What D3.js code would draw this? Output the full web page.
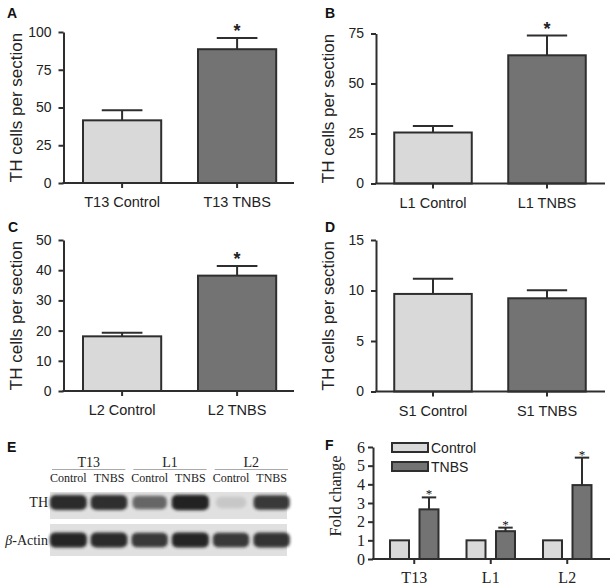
<!DOCTYPE html>
<html><head><meta charset="utf-8">
<script src="https://cdn.jsdelivr.net/npm/d3@7"></script>
<style>body{margin:0;background:#fff}</style>
</head><body>
<svg id="chart" width="612" height="588"></svg>
<script>
// ---------- DATA ----------
const catsA = ["T13 Control", "T13 TNBS"];
const meansA = [41.5, 88.6];
const semA = [6.6, 7.4];
const sigA = [false, true];
const ticksA = [0, 25, 50, 75, 100];

const catsB = ["L1 Control", "L1 TNBS"];
const meansB = [25.5, 64.1];
const semB = [3.2, 9.9];
const sigB = [false, true];
const ticksB = [0, 25, 50, 75];

const catsC = ["L2 Control", "L2 TNBS"];
const meansC = [18.1, 38.2];
const semC = [1.2, 3.2];
const sigC = [false, true];
const ticksC = [0, 10, 20, 30, 40, 50];

const catsD = ["S1 Control", "S1 TNBS"];
const meansD = [9.66, 9.23];
const semD = [1.5, 0.8];
const sigD = [false, false];
const ticksD = [0, 5, 10, 15];

const blotLevels = ["T13", "L1", "L2"];
const blotLanes = ["Control", "TNBS", "Control", "TNBS", "Control", "TNBS"];
const thIntensity = [0.92, 0.9, 0.62, 0.97, 0.12, 0.85];
const actinIntensity = [0.95, 0.92, 0.85, 0.95, 0.85, 0.88];

const groupsF = ["T13", "L1", "L2"];
const seriesF = ["Control", "TNBS"];
const controlF = [1, 1, 1];
const tnbsF = [2.66, 1.49, 3.96];
const semTnbsF = [0.64, 0.19, 1.47];
const sigF = [true, true, true];
const ticksF = [0, 1, 2, 3, 4, 5, 6];

// ---------- DRAW ----------
const svg = d3.select("#chart");
const SANS = "'Liberation Sans', Arial, sans-serif";
const SERIF = "'Liberation Serif', 'Times New Roman', serif";
const INK = "#2e2e2e";
const LIGHT = "#d9d9d9";
const DARK = "#737373";

function panelLetter(txt, x, y) {
  svg.append("text").attr("x", x).attr("y", y).text(txt)
    .attr("font-family", SANS).attr("font-weight", "bold").attr("font-size", 14).attr("fill", "#111");
}

function barPanel(cfg) {
  const g = svg.append("g");
  const y = d3.scaleLinear().domain([0, cfg.yMax]).range([cfg.y0, cfg.yTop]);
  const x = d3.scaleBand().domain(cfg.cats).range([cfg.bandL, cfg.bandR])
    .paddingInner(0.32).paddingOuter(0.16);
  const bw = x.bandwidth();
  const fills = [LIGHT, DARK];

  // error bars (upper only)
  cfg.cats.forEach((c, i) => {
    const cx = x(c) + bw / 2;
    const top = y(cfg.means[i] + cfg.sem[i]);
    g.append("line").attr("x1", cx).attr("x2", cx).attr("y1", y(cfg.means[i])).attr("y2", top)
      .attr("stroke", INK).attr("stroke-width", 2);
    g.append("line").attr("x1", cx - bw * 0.26).attr("x2", cx + bw * 0.26).attr("y1", top).attr("y2", top)
      .attr("stroke", INK).attr("stroke-width", 2);
    if (cfg.sig[i]) {
      g.append("text").attr("x", cx).attr("y", top - 1).attr("text-anchor", "middle")
        .attr("font-family", SANS).attr("font-weight", "bold").attr("font-size", 18).attr("fill", "#222").text("*");
    }
  });

  g.selectAll("rect.bar").data(cfg.cats).join("rect").attr("class", "bar")
    .attr("x", d => x(d)).attr("width", bw)
    .attr("y", (d, i) => y(cfg.means[i]))
    .attr("height", (d, i) => y(0) - y(cfg.means[i]))
    .attr("fill", (d, i) => fills[i]).attr("stroke", INK).attr("stroke-width", 2);

  // y axis
  const ya = g.append("g").attr("transform", `translate(${cfg.axisX},0)`)
    .call(d3.axisLeft(y).tickValues(cfg.ticks).tickSize(5).tickPadding(7).tickSizeOuter(0));
  ya.selectAll("path,line").attr("stroke", INK).attr("stroke-width", 2);
  ya.selectAll("text").attr("font-family", SANS).attr("font-size", 14).attr("fill", "#222");

  // x axis
  const xa = g.append("g").attr("transform", `translate(0,${cfg.y0})`)
    .call(d3.axisBottom(x).tickSize(5).tickPadding(9).tickSizeOuter(0));
  xa.select(".domain").remove();
  xa.append("line").attr("x1", cfg.axisX - 1).attr("x2", cfg.plotR).attr("y1", 0).attr("y2", 0)
    .attr("stroke", INK).attr("stroke-width", 2);
  xa.selectAll(".tick line").attr("stroke", INK).attr("stroke-width", 2);
  xa.selectAll("text").attr("font-family", SANS).attr("font-size", 14.5).attr("fill", "#222");

  // y title
  g.append("text")
    .attr("transform", `translate(${cfg.axisX - 42},${(cfg.y0 + cfg.yTop) / 2}) rotate(-90)`)
    .attr("text-anchor", "middle").attr("font-family", SANS).attr("font-size", 17).attr("fill", "#222")
    .text("TH cells per section");
}

barPanel({cats: catsA, means: meansA, sem: semA, sig: sigA, ticks: ticksA, yMax: 100,
  axisX: 63.5, plotR: 294, y0: 183, yTop: 32, bandL: 64.6, bandR: 294.6});
barPanel({cats: catsB, means: meansB, sem: semB, sig: sigB, ticks: ticksB, yMax: 75,
  axisX: 376, plotR: 605, y0: 183.5, yTop: 33.5, bandL: 376, bandR: 604});
barPanel({cats: catsC, means: meansC, sem: semC, sig: sigC, ticks: ticksC, yMax: 50,
  axisX: 63.5, plotR: 294, y0: 391, yTop: 240, bandL: 64.6, bandR: 294.6});
barPanel({cats: catsD, means: meansD, sem: semD, sig: sigD, ticks: ticksD, yMax: 15,
  axisX: 376, plotR: 605, y0: 391.5, yTop: 240, bandL: 376, bandR: 604});

panelLetter("A", 7, 18);
panelLetter("B", 325, 18);
panelLetter("C", 8, 232);
panelLetter("D", 325, 232);
panelLetter("E", 7, 452);
panelLetter("F", 325, 450);

// ---------- Panel E: western blot ----------
(function () {
  const g = svg.append("g");
  const defs = svg.append("defs");
  defs.append("filter").attr("id", "blur").attr("x", "-30%").attr("y", "-60%").attr("width", "160%").attr("height", "220%")
    .append("feGaussianBlur").attr("stdDeviation", 1.6);
  const lane = d3.scaleBand().domain(d3.range(blotLanes.length)).range([48, 292]);
  const step = lane.step();
  const rows = [
    {name: "TH", y0: 492, y1: 519, data: thIntensity, h: 11},
    {name: "Actin", y0: 524, y1: 556, data: actinIntensity, h: 11}
  ];
  rows.forEach(r => {
    g.append("rect").attr("x", 50).attr("y", r.y0).attr("width", 237).attr("height", r.y1 - r.y0).attr("fill", "#e0e0e0");
    const cy = (r.y0 + r.y1) / 2 + (r.name === "TH" ? -3 : 0);
    g.selectAll(null).data(r.data).join("rect")
      .attr("x", (d, i) => lane(i) + step / 2 - step * (0.36 + 0.1 * d))
      .attr("width", d => step * (0.72 + 0.2 * d))
      .attr("y", d => cy - r.h * (0.5 + 0.2 * d))
      .attr("height", d => r.h * (1 + 0.4 * d))
      .attr("rx", 6).attr("ry", 5)
      .attr("fill", "#1a1a1a").attr("opacity", d => d)
      .attr("filter", "url(#blur)");
  });
  // headers
  blotLevels.forEach((lv, k) => {
    const xL = lane(2 * k) + 4, xR = lane(2 * k + 1) + step - 4;
    g.append("line").attr("x1", xL).attr("x2", xR).attr("y1", 469.5).attr("y2", 469.5).attr("stroke", "#aaa").attr("stroke-width", 1);
    g.append("text").attr("x", (xL + xR) / 2).attr("y", 467).attr("text-anchor", "middle")
      .attr("font-family", SERIF).attr("font-size", 14).attr("fill", "#222").text(lv);
  });
  blotLanes.forEach((ln, i) => {
    g.append("text").attr("x", lane(i) + step / 2).attr("y", 482).attr("text-anchor", "middle")
      .attr("font-family", SERIF).attr("font-size", 12).attr("fill", "#222").text(ln);
  });
  g.append("text").attr("x", 48).attr("y", 507).attr("text-anchor", "end")
    .attr("font-family", SERIF).attr("font-size", 14).attr("fill", "#222").text("TH");
  const act = g.append("text").attr("x", 48).attr("y", 545).attr("text-anchor", "end")
    .attr("font-family", SERIF).attr("font-size", 14).attr("fill", "#222");
  act.append("tspan").attr("font-style", "italic").text("β");
  act.append("tspan").text("-Actin");
})();

// ---------- Panel F ----------
(function () {
  const g = svg.append("g");
  const y = d3.scaleLinear().domain([0, 6]).range([559, 447]);
  const x0 = d3.scaleBand().domain(groupsF).range([376, 605.5]);
  const x1 = d3.scaleBand().domain(seriesF).range([0, x0.bandwidth()]).paddingInner(0.356).paddingOuter(0.475);
  const bw = x1.bandwidth();
  const vals = {Control: controlF, TNBS: tnbsF};
  const fills = {Control: LIGHT, TNBS: DARK};

  groupsF.forEach((grp, i) => {
    const cx = x0(grp) + x1("TNBS") + bw / 2;
    const top = y(tnbsF[i] + semTnbsF[i]);
    g.append("line").attr("x1", cx).attr("x2", cx).attr("y1", y(tnbsF[i])).attr("y2", top).attr("stroke", INK).attr("stroke-width", 2);
    g.append("line").attr("x1", cx - bw * 0.38).attr("x2", cx + bw * 0.38).attr("y1", top).attr("y2", top).attr("stroke", INK).attr("stroke-width", 2);
    if (sigF[i]) {
      g.append("text").attr("x", cx).attr("y", top + 1).attr("text-anchor", "middle")
        .attr("font-family", SERIF).attr("font-size", 13).attr("fill", "#111").text("*");
    }
  });
  seriesF.forEach(s => {
    g.selectAll(null).data(groupsF).join("rect")
      .attr("x", d => x0(d) + x1(s)).attr("width", bw)
      .attr("y", (d, i) => y(vals[s][i])).attr("height", (d, i) => y(0) - y(vals[s][i]))
      .attr("fill", fills[s]).attr("stroke", INK).attr("stroke-width", 2);
  });

  const ya = g.append("g").attr("transform", "translate(373,0)")
    .call(d3.axisLeft(y).tickValues(ticksF).tickFormat(d3.format("d")).tickSize(5).tickPadding(3).tickSizeOuter(0));
  ya.selectAll("path,line").attr("stroke", INK).attr("stroke-width", 2);
  ya.selectAll("text").attr("font-family", SERIF).attr("font-size", 16).attr("fill", "#222");

  const xa = g.append("g").attr("transform", "translate(0,559)")
    .call(d3.axisBottom(x0).tickSize(5).tickPadding(8).tickSizeOuter(0));
  xa.select(".domain").remove();
  xa.append("line").attr("x1", 372).attr("x2", 610).attr("stroke", INK).attr("stroke-width", 2);
  xa.selectAll(".tick line").attr("stroke", INK).attr("stroke-width", 2);
  xa.selectAll("text").attr("font-family", SERIF).attr("font-size", 16).attr("fill", "#222");

  g.append("text").attr("transform", "translate(341,496) rotate(-90)").attr("text-anchor", "middle")
    .attr("font-family", SERIF).attr("font-size", 16.5).attr("fill", "#222").text("Fold change");

  // legend
  const lg = g.append("g");
  seriesF.forEach((s, i) => {
    const ly = 443 + i * 19;
    lg.append("rect").attr("x", 392).attr("y", ly).attr("width", 36).attr("height", 9)
      .attr("fill", fills[s]).attr("stroke", INK).attr("stroke-width", 2);
    lg.append("text").attr("x", 431).attr("y", ly + 9.5).attr("font-family", SANS).attr("font-size", 14)
      .attr("fill", "#222").text(s);
  });
})();
</script>
</body></html>
